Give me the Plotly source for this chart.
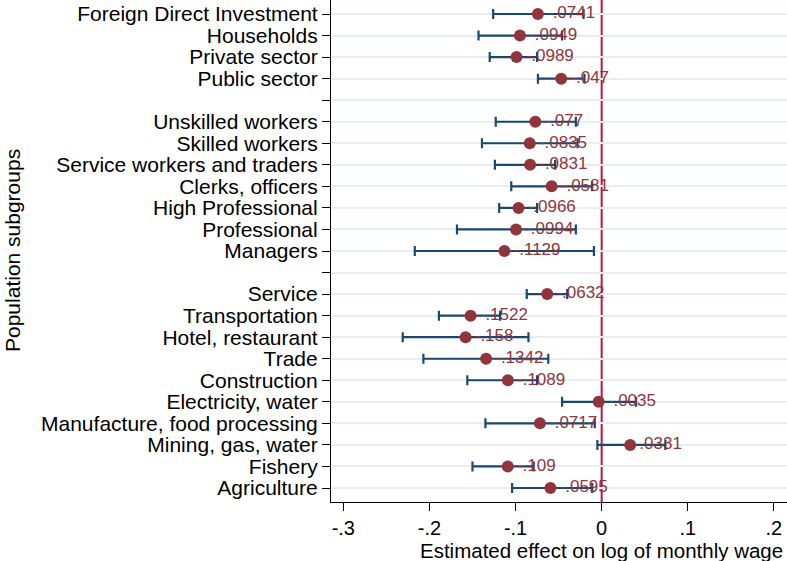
import plotly.graph_objects as go

# Rows listed top to bottom; None marks a blank separator row
categories = [
    "Foreign Direct Investment", "Households", "Private sector", "Public sector",
    None,
    "Unskilled workers", "Skilled workers", "Service workers and traders",
    "Clerks, officers", "High Professional", "Professional", "Managers",
    None,
    "Service", "Transportation", "Hotel, restaurant", "Trade", "Construction",
    "Electricity, water", "Manufacture, food processing", "Mining, gas, water",
    "Fishery", "Agriculture",
]
estimates = [-0.0741, -0.0949, -0.0989, -0.047,
             -0.077, -0.0835, -0.0831, -0.0581, -0.0966, -0.0994, -0.1129,
             -0.0632, -0.1522, -0.158, -0.1342, -0.1089, -0.0035, -0.0717,
             0.0331, -0.109, -0.0595]
ci_low = [-0.126, -0.143, -0.130, -0.074,
          -0.123, -0.139, -0.124, -0.105, -0.119, -0.168, -0.217,
          -0.087, -0.189, -0.231, -0.207, -0.156, -0.046, -0.135,
          -0.005, -0.150, -0.104]
ci_high = [-0.021, -0.046, -0.075, -0.020,
           -0.030, -0.028, -0.054, -0.011, -0.075, -0.030, -0.009,
           -0.040, -0.118, -0.085, -0.062, -0.075, 0.040, -0.008,
           0.074, -0.079, -0.011]
x_ticks = [-0.3, -0.2, -0.1, 0, 0.1, 0.2]
x_tick_labels = ["-.3", "-.2", "-.1", "0", ".1", ".2"]

FONT = "Arial, Liberation Sans, sans-serif"
NAVY = "#1a476f"
MAROON = "#90353b"
LINE_RED = "#b8163e"

n = len(categories)
row_pos = [n - i for i in range(n)]  # top row has highest position
named_pos = [p for p, c in zip(row_pos, categories) if c is not None]


def fmt(v):
    s = f"{abs(v):.4f}".rstrip("0")
    s = s[1:] if s.startswith("0") else s
    return ("-" if v < 0 else "") + s


labels = [fmt(v) for v in estimates]

fig = go.Figure()
fig.add_trace(go.Scatter(
    x=estimates, y=named_pos,
    mode="markers",
    marker=dict(size=12, color=MAROON),
    error_x=dict(type="data", symmetric=False,
                 array=[h - e for h, e in zip(ci_high, estimates)],
                 arrayminus=[e - l for e, l in zip(estimates, ci_low)],
                 color=NAVY, thickness=2.2, width=5),
    showlegend=False, cliponaxis=False,
))
# value labels drawn on top of the CI lines
fig.add_trace(go.Scatter(
    x=estimates, y=named_pos,
    mode="markers+text",
    marker=dict(size=13, color="rgba(0,0,0,0)"),
    text=labels, textposition="middle right",
    textfont=dict(family=FONT, size=17, color=MAROON),
    showlegend=False, cliponaxis=False, hoverinfo="skip",
))

fig.add_shape(type="line", xref="x", yref="paper", x0=0, x1=0, y0=0, y1=1,
              line=dict(color=LINE_RED, width=2), layer="below")

fig.update_layout(
    width=787, height=561,
    margin=dict(l=331, r=0, t=0, b=59),
    paper_bgcolor="white", plot_bgcolor="white",
    font=dict(family=FONT, size=21, color="black"),
    xaxis=dict(range=[-0.3143, 0.2152], tickvals=x_ticks, ticktext=x_tick_labels,
               ticks="outside", ticklen=8, tickwidth=1.2, tickcolor="black",
               showline=True, linecolor="black", linewidth=1.2,
               showgrid=False, zeroline=False,
               tickfont=dict(family=FONT, size=20, color="black")),
    yaxis=dict(range=[0.35, 23.65], tickvals=row_pos,
               ticktext=[c if c is not None else "" for c in categories],
               ticks="outside", ticklen=8, tickwidth=1.2, tickcolor="black",
               showline=True, linecolor="black", linewidth=1.2,
               showgrid=True, gridcolor="#e6eef1", gridwidth=1.5,
               zeroline=False,
               tickfont=dict(family=FONT, size=21, color="black")),
    annotations=[
        dict(text="Estimated effect on log of monthly wage", xref="paper", yref="paper",
             x=(601.7 - 331) / 456, y=(502 - 550) / 502, xanchor="center", yanchor="middle",
             showarrow=False, font=dict(family=FONT, size=20.5, color="black")),
        dict(text="Population subgroups", xref="paper", yref="paper",
             x=(12 - 331) / 456, y=0.5, xanchor="center", yanchor="middle", textangle=-90,
             showarrow=False, font=dict(family=FONT, size=21, color="black")),
    ],
)

fig.write_html("out.html", config={"displayModeBar": False},
               post_script="document.body.style.margin='0px';")
